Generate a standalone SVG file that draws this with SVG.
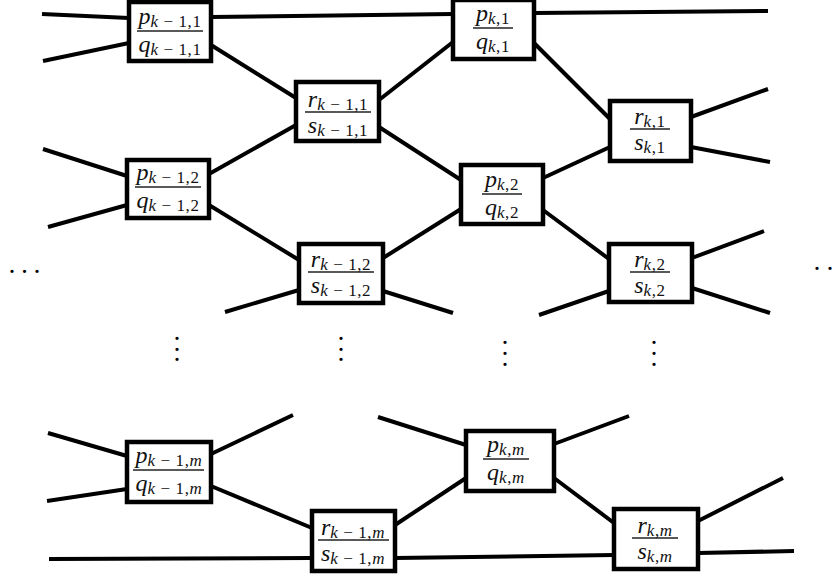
<svg xmlns="http://www.w3.org/2000/svg" width="836" height="575" viewBox="0 0 836 575">
<style>
.ln{stroke:#000;stroke-width:4;fill:none}
.bx{fill:#fff;stroke:#000;stroke-width:4.5}
.bar{stroke:#222;stroke-width:1.3}
.t{font-family:"Liberation Serif",serif;font-size:24px;text-anchor:middle;fill:#111}
.v{font-style:italic}
.s{font-size:17px;letter-spacing:0.6px}
.dot{font-family:"Liberation Serif",serif;font-size:27px;text-anchor:middle;fill:#000}
</style>
<rect width="836" height="575" fill="#fff"/>
<g id="connectors">
<line class="ln" x1="42" y1="14" x2="129" y2="18"/>
<line class="ln" x1="43" y1="61" x2="129" y2="43"/>
<line class="ln" x1="211" y1="17" x2="453" y2="14"/>
<line class="ln" x1="534" y1="13" x2="768" y2="11"/>
<line class="ln" x1="211" y1="45" x2="296" y2="98"/>
<line class="ln" x1="379" y1="100" x2="453" y2="42"/>
<line class="ln" x1="209" y1="174" x2="296" y2="125"/>
<line class="ln" x1="379" y1="127" x2="461" y2="180"/>
<line class="ln" x1="534" y1="43" x2="610" y2="119"/>
<line class="ln" x1="691" y1="117" x2="768" y2="89"/>
<line class="ln" x1="691" y1="147" x2="770" y2="162"/>
<line class="ln" x1="610" y1="147" x2="543" y2="178"/>
<line class="ln" x1="543" y1="210" x2="609" y2="259"/>
<line class="ln" x1="461" y1="209" x2="383" y2="258"/>
<line class="ln" x1="209" y1="205" x2="299" y2="260"/>
<line class="ln" x1="43" y1="149" x2="127" y2="176"/>
<line class="ln" x1="48" y1="227" x2="127" y2="205"/>
<line class="ln" x1="225" y1="312" x2="299" y2="290"/>
<line class="ln" x1="383" y1="291" x2="453" y2="313"/>
<line class="ln" x1="609" y1="291" x2="539" y2="315"/>
<line class="ln" x1="692" y1="258" x2="764" y2="231"/>
<line class="ln" x1="692" y1="288" x2="770" y2="313"/>
<line class="ln" x1="48" y1="433" x2="127" y2="456"/>
<line class="ln" x1="47" y1="501" x2="127" y2="489"/>
<line class="ln" x1="211" y1="454" x2="293" y2="415"/>
<line class="ln" x1="211" y1="486" x2="312" y2="528"/>
<line class="ln" x1="49" y1="559" x2="312" y2="558"/>
<line class="ln" x1="395" y1="558" x2="614" y2="555"/>
<line class="ln" x1="698" y1="553" x2="794" y2="551"/>
<line class="ln" x1="395" y1="525" x2="466" y2="478"/>
<line class="ln" x1="378" y1="417" x2="466" y2="445"/>
<line class="ln" x1="554" y1="444" x2="629" y2="416"/>
<line class="ln" x1="554" y1="478" x2="614" y2="523"/>
<line class="ln" x1="698" y1="521" x2="783" y2="478"/>
</g>
<g id="A">
<rect class="bx" x="129" y="2" width="82" height="59"/>
<line class="bar" x1="137" y1="31" x2="203" y2="31"/>
<text class="t" x="170" y="24"><tspan class="v">p</tspan><tspan class="s" dy="3"><tspan class="v">k</tspan> − 1,1</tspan></text>
<text class="t" x="170" y="52"><tspan class="v">q</tspan><tspan class="s" dy="3"><tspan class="v">k</tspan> − 1,1</tspan></text>
</g>
<g id="B">
<rect class="bx" x="296" y="82" width="83" height="59"/>
<line class="bar" x1="305" y1="112" x2="371" y2="112"/>
<text class="t" x="338" y="107"><tspan class="v">r</tspan><tspan class="s" dy="3"><tspan class="v">k</tspan> − 1,1</tspan></text>
<text class="t" x="338" y="133"><tspan class="v">s</tspan><tspan class="s" dy="3"><tspan class="v">k</tspan> − 1,1</tspan></text>
</g>
<g id="C">
<rect class="bx" x="453" y="0" width="81" height="59"/>
<line class="bar" x1="473" y1="28" x2="513" y2="28"/>
<text class="t" x="493" y="21"><tspan class="v">p</tspan><tspan class="s" dy="3"><tspan class="v">k</tspan>,1</tspan></text>
<text class="t" x="493" y="49"><tspan class="v">q</tspan><tspan class="s" dy="3"><tspan class="v">k</tspan>,1</tspan></text>
</g>
<g id="D">
<rect class="bx" x="610" y="101" width="81" height="60"/>
<line class="bar" x1="630" y1="129" x2="670" y2="129"/>
<text class="t" x="650" y="124"><tspan class="v">r</tspan><tspan class="s" dy="3"><tspan class="v">k</tspan>,1</tspan></text>
<text class="t" x="650" y="150"><tspan class="v">s</tspan><tspan class="s" dy="3"><tspan class="v">k</tspan>,1</tspan></text>
</g>
<g id="E">
<rect class="bx" x="461" y="165" width="82" height="59"/>
<line class="bar" x1="482" y1="194" x2="522" y2="194"/>
<text class="t" x="502" y="187"><tspan class="v">p</tspan><tspan class="s" dy="3"><tspan class="v">k</tspan>,2</tspan></text>
<text class="t" x="502" y="215"><tspan class="v">q</tspan><tspan class="s" dy="3"><tspan class="v">k</tspan>,2</tspan></text>
</g>
<g id="F">
<rect class="bx" x="609" y="244" width="83" height="58"/>
<line class="bar" x1="630" y1="272" x2="670" y2="272"/>
<text class="t" x="650" y="267"><tspan class="v">r</tspan><tspan class="s" dy="3"><tspan class="v">k</tspan>,2</tspan></text>
<text class="t" x="650" y="293"><tspan class="v">s</tspan><tspan class="s" dy="3"><tspan class="v">k</tspan>,2</tspan></text>
</g>
<g id="G">
<rect class="bx" x="127" y="160" width="82" height="58"/>
<line class="bar" x1="135" y1="187" x2="201" y2="187"/>
<text class="t" x="168" y="180"><tspan class="v">p</tspan><tspan class="s" dy="3"><tspan class="v">k</tspan> − 1,2</tspan></text>
<text class="t" x="168" y="208"><tspan class="v">q</tspan><tspan class="s" dy="3"><tspan class="v">k</tspan> − 1,2</tspan></text>
</g>
<g id="H">
<rect class="bx" x="299" y="244" width="84" height="59"/>
<line class="bar" x1="308" y1="272" x2="374" y2="272"/>
<text class="t" x="341" y="267"><tspan class="v">r</tspan><tspan class="s" dy="3"><tspan class="v">k</tspan> − 1,2</tspan></text>
<text class="t" x="341" y="293"><tspan class="v">s</tspan><tspan class="s" dy="3"><tspan class="v">k</tspan> − 1,2</tspan></text>
</g>
<g id="I">
<rect class="bx" x="127" y="442" width="84" height="60"/>
<line class="bar" x1="133" y1="470" x2="204" y2="470"/>
<text class="t" x="169" y="463"><tspan class="v">p</tspan><tspan class="s" dy="3"><tspan class="v">k</tspan> − 1,<tspan class="v">m</tspan></tspan></text>
<text class="t" x="169" y="491"><tspan class="v">q</tspan><tspan class="s" dy="3"><tspan class="v">k</tspan> − 1,<tspan class="v">m</tspan></tspan></text>
</g>
<g id="J">
<rect class="bx" x="312" y="511" width="83" height="60"/>
<line class="bar" x1="318" y1="540" x2="389" y2="540"/>
<text class="t" x="353" y="535"><tspan class="v">r</tspan><tspan class="s" dy="3"><tspan class="v">k</tspan> − 1,<tspan class="v">m</tspan></tspan></text>
<text class="t" x="353" y="561"><tspan class="v">s</tspan><tspan class="s" dy="3"><tspan class="v">k</tspan> − 1,<tspan class="v">m</tspan></tspan></text>
</g>
<g id="K">
<rect class="bx" x="466" y="431" width="88" height="60"/>
<line class="bar" x1="483" y1="459" x2="529" y2="459"/>
<text class="t" x="506" y="452"><tspan class="v">p</tspan><tspan class="s" dy="3"><tspan class="v">k</tspan>,<tspan class="v">m</tspan></tspan></text>
<text class="t" x="506" y="480"><tspan class="v">q</tspan><tspan class="s" dy="3"><tspan class="v">k</tspan>,<tspan class="v">m</tspan></tspan></text>
</g>
<g id="L">
<rect class="bx" x="614" y="509" width="84" height="60"/>
<line class="bar" x1="632" y1="538" x2="678" y2="538"/>
<text class="t" x="655" y="533"><tspan class="v">r</tspan><tspan class="s" dy="3"><tspan class="v">k</tspan>,<tspan class="v">m</tspan></tspan></text>
<text class="t" x="655" y="559"><tspan class="v">s</tspan><tspan class="s" dy="3"><tspan class="v">k</tspan>,<tspan class="v">m</tspan></tspan></text>
</g>
<g id="ellipses">
<text class="dot" x="12 24.5 37" y="281 281 281">···</text>
<text class="dot" x="817 830" y="278 278">··</text>
<text class="dot" x="177 177 177" y="348 359 369">···</text>
<text class="dot" x="341 341 341" y="348 359 369">···</text>
<text class="dot" x="505 505 505" y="352 363 374">···</text>
<text class="dot" x="654 654 654" y="352 363 374">···</text>
</g>
</svg>
